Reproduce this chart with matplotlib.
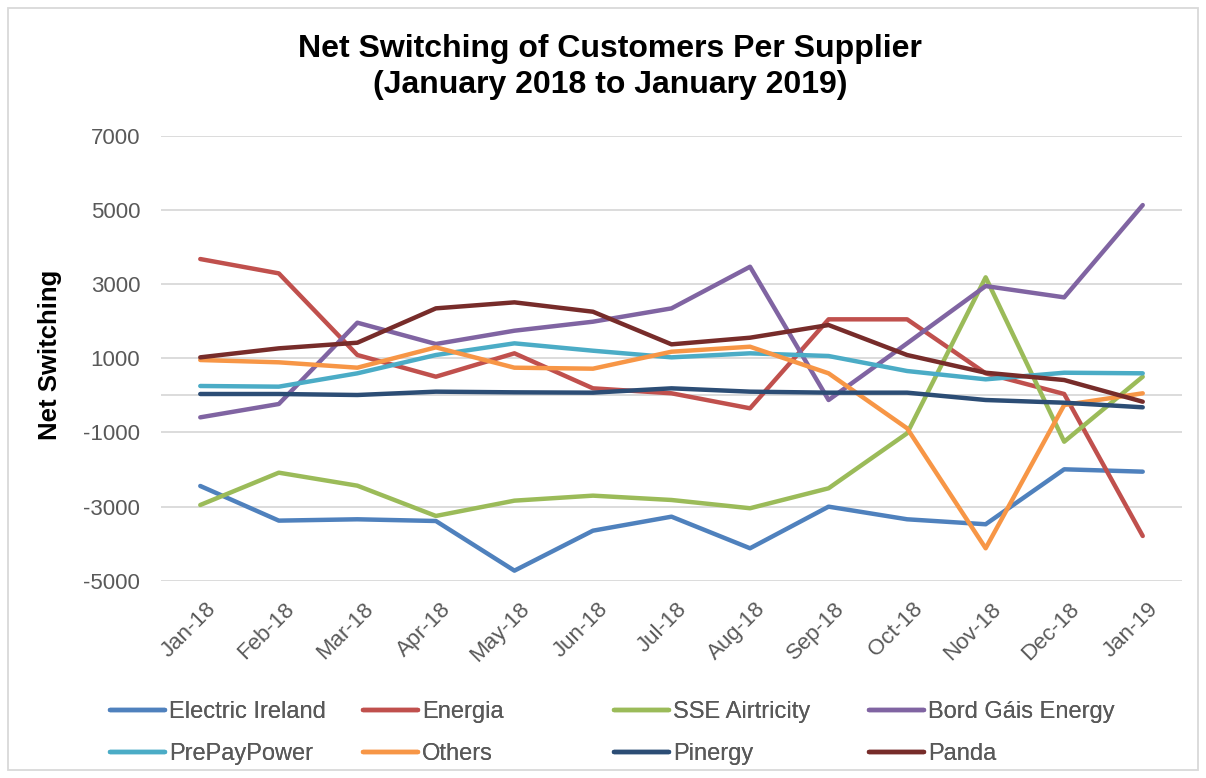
import numpy as np
import matplotlib.pyplot as plt
from matplotlib.patches import Rectangle
from matplotlib.transforms import ScaledTranslation

plt.rcParams['font.family'] = ['Liberation Sans', 'DejaVu Sans']
plt.rcParams['axes.unicode_minus'] = False

months = ['Jan-18', 'Feb-18', 'Mar-18', 'Apr-18', 'May-18', 'Jun-18', 'Jul-18',
          'Aug-18', 'Sep-18', 'Oct-18', 'Nov-18', 'Dec-18', 'Jan-19']

electric_ireland = [-2444, -3379, -3343, -3389, -4729, -3650, -3272, -4125, -3002, -3343, -3477, -1994, -2058]
energia = [3680, 3293, 1090, 505, 1136, 191, 57, -348, 2053, 2053, 596, 38, -3793]
sse_airtricity = [-2957, -2085, -2436, -3253, -2840, -2705, -2822, -3045, -2506, -1022, 3186, -1249, 505]
bord_gais = [-592, -232, 1962, 1387, 1746, 1989, 2349, 3472, -124, 1405, 2951, 2646, 5136]
prepaypower = [254, 236, 596, 1090, 1405, 1206, 1027, 1136, 1063, 658, 434, 612, 596]
others = [955, 893, 748, 1297, 748, 721, 1179, 1314, 596, -888, -4125, -259, 57]
pinergy = [38, 38, 11, 101, 83, 74, 191, 101, 74, 74, -124, -197, -321]
panda = [1027, 1270, 1422, 2349, 2511, 2258, 1378, 1557, 1899, 1090, 612, 415, -170]

names = ['Electric Ireland', 'Energia', 'SSE Airtricity', 'Bord Gáis Energy',
         'PrePayPower', 'Others', 'Pinergy', 'Panda']
series = [electric_ireland, energia, sse_airtricity, bord_gais,
          prepaypower, others, pinergy, panda]
colors = ['#4F81BD', '#C0504D', '#9BBB59', '#8064A2',
          '#4BACC6', '#F79646', '#2C4D75', '#772C2A']

W, H = 1206, 778
fig = plt.figure(figsize=(W / 100, H / 100), dpi=100)
ax = fig.add_axes([161 / W, 1 - 580.7 / H, (1182 - 161) / W, (580.7 - 136) / H])

x = np.arange(len(months))
lines = {}
for name, vals, c in zip(names, series, colors):
    lines[name], = ax.plot(x, vals, color=c, lw=3.2, solid_capstyle='round',
                           solid_joinstyle='round', label=name)

ax.set_xlim(-0.5, len(months) - 0.5)
ax.set_ylim(-5000, 7000)
ax.set_yticks(np.arange(-5000, 7001, 2000))
ax.grid(axis='y', color='#D9D9D9', lw=1.3)
ax.axhline(0, color='#D9D9D9', lw=1.3, zorder=0.5)
ax.set_axisbelow(True)
for s in ax.spines.values():
    s.set_visible(False)
ax.tick_params(axis='both', length=0, labelsize=16, labelcolor='#595959')
ax.tick_params(axis='y', pad=15)
ax.set_xticks(x)
ax.set_xticklabels(months, rotation=45, ha='right', va='top', rotation_mode='anchor')
ax.tick_params(axis='x', pad=13)
shift = ScaledTranslation(5 / 100, 0, fig.dpi_scale_trans)
for lab in ax.get_xticklabels():
    lab.set_transform(lab.get_transform() + shift)

fig.text(50 / W, 1 - 355 / H, 'Net Switching', rotation=90, fontsize=18.5,
         fontweight='bold', ha='center', va='center')
fig.text(610 / W, 1 - 67 / H, 'Net Switching of Customers Per Supplier\n(January 2018 to January 2019)',
         fontsize=23, fontweight='bold', ha='center', va='center', linespacing=1.22)

# legend: four columns of two rows, placed like the original
col_x = [110, 363, 614, 869]
for i, cx in enumerate(col_x):
    pair = [names[i], names[i + 4]]
    leg = fig.legend([lines[n] for n in pair], pair, loc='upper left',
                     bbox_to_anchor=(cx / W, 1 - 701 / H), frameon=False,
                     fontsize=17, handlelength=2.35, handletextpad=0.15,
                     borderpad=0, borderaxespad=0, labelspacing=0.85,
                     labelcolor='#595959')
    fig.add_artist(leg)

fig.add_artist(Rectangle((8 / W, 1 - 770 / H), (1198 - 8) / W, (770 - 8) / H,
                         transform=fig.transFigure, fill=False,
                         edgecolor='#D9D9D9', lw=1.3))

fig.savefig('out.png', dpi=100)
